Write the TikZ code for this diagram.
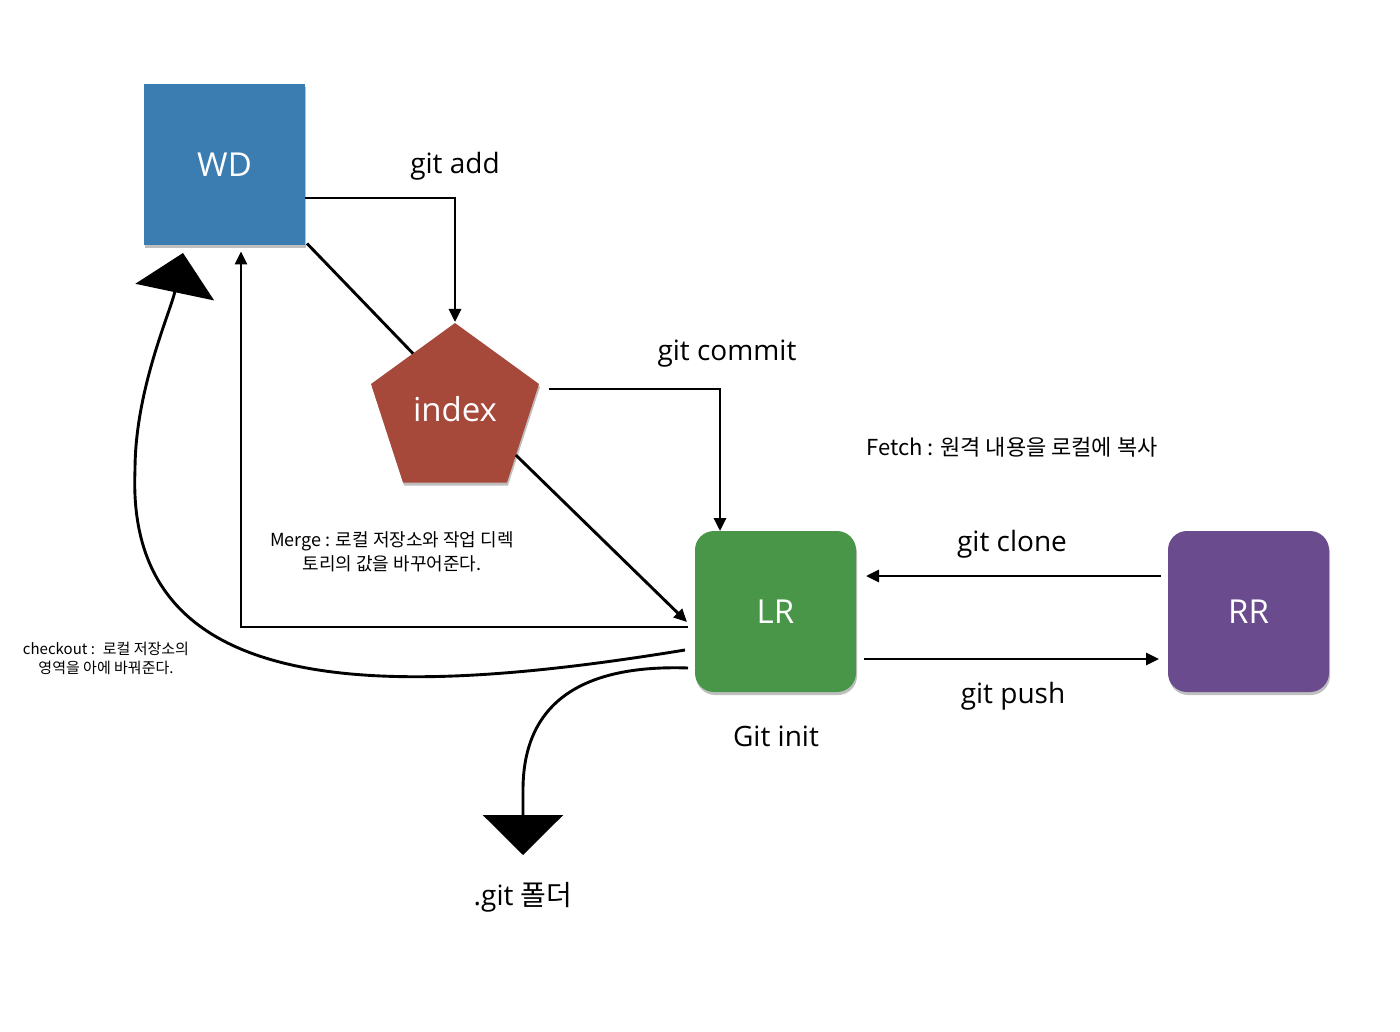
\documentclass[tikz,border=0pt]{standalone}
\usepackage{fontspec}
\setmainfont{Open Sans}
\newfontfamily\kr{Noto Sans CJK KR}
\usetikzlibrary{arrows.meta,shapes.geometric,shadows,calc}
\definecolor{wdblue}{RGB}{59,125,176}
\definecolor{idxred}{RGB}{166,72,58}
\definecolor{lrgreen}{RGB}{74,150,72}
\definecolor{rrpurple}{RGB}{106,76,142}
\tikzset{
  boxshadow/.style={drop shadow={shadow xshift=1pt,shadow yshift=-3pt,opacity=0.25,fill=black}},
  store/.style={minimum width=161pt,minimum height=161pt,inner sep=0pt,outer sep=0pt,text=white,font=\fontsize{33}{38}\selectfont,boxshadow},
  conn/.style={line width=2.9pt,-{Triangle[length=13pt,width=12pt]}},
  plainconn/.style={line width=2.9pt},
  bigconn/.style={line width=2.9pt,-{Triangle[length=40pt,width=80pt]}},
  lbl/.style={inner sep=0pt,font=\fontsize{28}{34}\selectfont},
  krlbl/.style={inner sep=0pt,align=center}
}
\begin{document}
\begin{tikzpicture}[x=1pt,y=-1pt]
\useasboundingbox (0,0) rectangle (1400,1032);
% stores
\node[store,fill=wdblue] (WD) at (224.5,165) {WD};
\node[regular polygon,regular polygon sides=5,minimum size=176.6pt,inner sep=0pt,outer sep=0pt,fill=idxred,text=white,font=\fontsize{33}{38}\selectfont,boxshadow] (index) at (455,411.3) {};
\node[text=white,font=\fontsize{33}{38}\selectfont,inner sep=0pt] (indexlabel) at (455,409) {index};
\node[store,fill=lrgreen,rounded corners=19pt] (LR) at (775.5,611.5) {LR};
\node[store,fill=rrpurple,rounded corners=19pt] (RR) at (1248.5,611.5) {RR};
% coordinates
\coordinate (wdcorner) at ($(WD.south east)+(2,-2)$);
\coordinate (cko) at ($(LR.west)+(-10,38.5)$);
\coordinate (cktip) at (183,253);
\coordinate (ckleft) at (135,470);
\coordinate (gitfrom) at ($(LR.west)+(-7,56.5)$);
\coordinate (gittip) at (523,855);
% connectors
\draw[conn] ($(WD.east)+(0,33)$) -| ($(index.corner 1)+(0,-1)$);
\draw[plainconn] (wdcorner) -- ($(index.corner 1)!0.5!(index.corner 2)$);
\draw[conn] ($(index.corner 5)+(10,5)$) -| ($(LR.north)+(-55.5,0)$);
\draw[conn] ($(index.corner 5)!0.72!(index.corner 4)$) -- ($(LR.west)+(-8,10.5)$);
\draw[conn] ($(LR.west)+(-7,15.5)$) -| ($(WD.south)+(16.5,6)$);
\draw[bigconn] (cko) .. controls (380,700) and (125,700) .. (ckleft)
   .. controls (135,390) and (170.6,311.7) .. (cktip);
\draw[bigconn] (gitfrom) .. controls (600,665) and (523,690) .. (523,790) -- (gittip);
\draw[conn] ($(RR.west)+(-7,-35.5)$) -- ($(LR.east)+(10,-35.5)$);
\draw[conn] ($(LR.east)+(8,47.5)$) -- ($(RR.west)+(-9,47.5)$);
% labels
\node[lbl] (addlbl) at (455,166) {git add};
\node[lbl] (commitlbl) at (727,354) {git commit};
\node[krlbl,font=\kr\fontsize{22}{27}\selectfont] (fetchlbl) at (1012,447) {Fetch : 원격 내용을 로컬에 복사};
\node[lbl] (clonelbl) at (1012,544) {git clone};
\node[lbl] (pushlbl) at (1013,696) {git push};
\node[lbl] (initlbl) at (776,736) {Git init};
\node[lbl] (gitdirlbl) at (523,897) {.git {\kr 폴더}};
\node[krlbl,font=\kr\fontsize{18}{24}\selectfont] (mergelbl) at (392,552) {Merge : 로컬 저장소와 작업 디렉\\토리의 값을 바꾸어준다.};
\node[krlbl,font=\kr\fontsize{15}{19}\selectfont] (checklbl) at (106,658) {checkout :~ 로컬 저장소의\\영역을 아에 바꿔준다.};
\end{tikzpicture}
\end{document}
